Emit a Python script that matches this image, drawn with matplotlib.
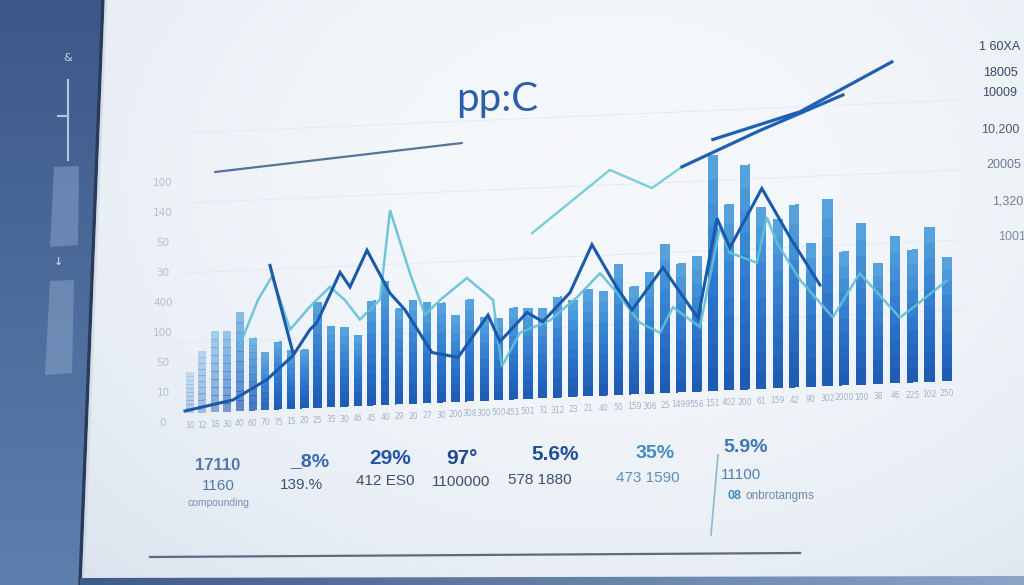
import numpy as np
import matplotlib
matplotlib.use("Agg")
import matplotlib.pyplot as plt
import matplotlib.transforms as mtransforms
from matplotlib.colors import LinearSegmentedColormap, to_rgb
from matplotlib.patches import Polygon

# ---------------- data ----------------
bar_values = [40, 61, 80, 80, 98, 72, 57, 67, 58, 58,
              105, 80, 79, 70, 104, 123, 95, 103, 100, 99,
              86, 101, 83, 81, 91, 90, 89, 100, 96, 106,
              104, 130, 107, 121, 148, 128, 135, 235, 185, 224,
              181, 168, 182, 143, 186, 133, 161, 120, 146, 132,
              154, 123]
x_labels = ["10", "12", "18", "30", "40", "60", "70", "75", "15", "20",
            "25", "35", "30", "46", "45", "40", "29", "20", "27", "30",
            "200", "308", "300", "500", "451", "501", "31", "312", "23", "21",
            "40", "50", "159", "306", "25", "1499", "556", "151", "402", "200",
            "61", "159", "42", "90", "302", "2000", "100", "38", "46", "225",
            "102", "250"]

main_line_x = [-0.41, 3.46, 6.13, 8.14, 9.42, 9.96, 11.68, 12.42, 13.67, 15.35,
               16.42, 18.35, 20.19, 22.27, 23.09, 24.93, 26.00, 27.81, 29.26, 30.77,
               31.87, 33.85, 36.07, 37.26, 38.06, 40.03, 41.74, 43.55]
main_line_y = [2, 11, 30, 53, 78, 85, 134, 119, 155, 111,
               94, 50, 44, 85, 58, 86, 76, 104, 151, 110,
               84, 125, 73, 172, 142, 200, 150, 101]
spike_x = [6.36, 8.14]
spike_y = [144, 55]

cyan_line_x = [4.02, 5.42, 6.52, 7.91, 9.42, 10.93, 12.05, 13.15, 14.62, 15.35,
               16.79, 17.86, 18.92, 20.81, 22.61, 23.22, 24.45, 26.47, 28.27, 29.79,
               30.89, 32.38, 33.66, 34.49, 36.19, 37.44, 38.06, 39.72, 40.34, 40.95,
               42.35, 44.32, 45.92, 48.27, 48.86, 50.99]
cyan_line_y = [66, 110, 133, 79, 101, 120, 106, 86, 105, 194,
               130, 88, 102, 123, 100, 33, 66, 77, 99, 122,
               102, 71, 60, 85, 64, 163, 137, 126, 171, 145,
               107, 68, 111, 65, 72, 100]

upper_cyan_x = [25.27, 30.43, 33.15, 35.06]
upper_cyan_y = [165, 225, 205, 225]
trend_a_x = [35.06, 39.91, 44.92]
trend_a_y = [225, 258, 290]
trend_b_x = [37.00, 42.35, 47.81]
trend_b_y = [251, 275, 321]

y_axis_labels = ["100", "140", "50", "30", "400", "100", "50", "10", "0"]
right_labels = ["1 60XA", "18005", "10009", "10,200", "20005", "1,320", "1001"]
stat_values = ["17110", "_8%", "29%", "97°", "5.6%", "35%", "5.9%"]
stat_subs = ["1160", "139.%", "412 ES0", "1100000", "578 1880", "473 1590", "11100"]
title = "pp:C"

# ---------------- figure ----------------
W, H = 1024, 585
fig = plt.figure(figsize=(W / 100, H / 100), dpi=100)

bg = fig.add_axes([0, 0, 1, 1])
bg.set_xlim(0, W)
bg.set_ylim(H, 0)
bg.axis("off")

# screen background gradient
gy, gx = np.mgrid[0:1:117j, 0:1:205j]
r = ((gx - 0.6) / 0.75) ** 2 + ((gy - 0.3) / 0.95) ** 2
t = np.clip(r, 0, 1)[..., None]
c_center = np.array([0.962, 0.973, 0.986])
c_edge = np.array([0.86, 0.895, 0.935])
img = c_center * (1 - t) + c_edge * t
bg.imshow(img, extent=[0, W, H, 0], aspect="auto", zorder=0, interpolation="bilinear")

# left dark panel
panel = Polygon([(0, 0), (103, 0), (80, H), (0, H)], closed=True,
                facecolor="none", edgecolor="none", zorder=1)
bg.add_patch(panel)
py = np.linspace(0, 1, 100)[:, None, None]
ptop = np.array(to_rgb("#3c5888"))
pbot = np.array(to_rgb("#5c7fae"))
pimg = ptop * (1 - py) + pbot * py
pimg = np.repeat(pimg, 4, axis=1)
pim = bg.imshow(pimg, extent=[0, 110, H, 0], aspect="auto", zorder=1, interpolation="bilinear")
pim.set_clip_path(panel)
bg.plot([103, 80], [0, H], color="#2a3a58", lw=2.5, zorder=2)
bg.plot([106, 83], [0, H], color="#c9d6e4", lw=2, zorder=2, alpha=0.6)

# panel UI bits
bg.plot([68, 68], [80, 160], color="#b4c5dc", lw=1.5, zorder=2)
bg.plot([58, 68], [116, 116], color="#b4c5dc", lw=1.5, zorder=2)
bg.add_patch(Polygon([(54, 167), (79, 166), (78, 245), (50, 247)], closed=True,
                     facecolor="#86a2c8", alpha=0.55, edgecolor="none", zorder=2))
bg.add_patch(Polygon([(50, 281), (74, 280), (72, 373), (45, 375)], closed=True,
                     facecolor="#86a2c8", alpha=0.55, edgecolor="none", zorder=2))
bg.text(68, 58, "&", color="#c8d6e8", fontsize=8, ha="center", va="center", zorder=3)
bg.text(58, 262, "\u2193", color="#dde7f3", fontsize=8, ha="center", va="center", zorder=3)

# bottom strip
strip = Polygon([(80, 578), (W, 576), (W, H), (80, H)], closed=True,
                facecolor="none", edgecolor="none", zorder=2)
bg.add_patch(strip)
sx = np.linspace(0, 1, 100)[None, :, None]
simg = np.array(to_rgb("#3f5b88")) * (1 - sx) + np.array(to_rgb("#8aa4c6")) * sx
simg = np.repeat(simg, 3, axis=0)
sim = bg.imshow(simg, extent=[80, W, H, 574], aspect="auto", zorder=2)
sim.set_clip_path(strip)

# title and decoration line
bg.plot([215, 462], [172, 143], color="#56739b", lw=1.6, zorder=3, solid_capstyle="round")
bg.text(497, 111, title, fontsize=29, color="#2c5fa9", ha="center", va="baseline",
        family=["Lato", "DejaVu Sans"], zorder=3)

# left faint y labels
for k, lab in enumerate(y_axis_labels):
    bg.text(163, 183 + k * 30, lab, fontsize=7.5, color="#b3c0d0", ha="center",
            va="center", zorder=3)

# right labels
right_y = [47, 73, 93, 130, 165, 202, 237]
right_x = [1000, 1000, 1000, 1000, 1004, 1008, 1012]
right_c = ["#36476a", "#36476a", "#3b4c6e", "#4a5a7a", "#6a7a95", "#6f7f98", "#7d8ca4"]
for lab, yy, xx, cc in zip(right_labels, right_y, right_x, right_c):
    bg.text(xx, yy, lab, fontsize=9, color=cc, ha="center", va="center",
            family=["Liberation Sans", "DejaVu Sans"], zorder=3)

# bottom stats
narrow = ["Liberation Sans Narrow", "Liberation Sans", "DejaVu Sans"]
sv_x = [218, 310, 390, 462, 555, 655, 746]
sv_y = [466, 462, 458, 458, 455, 453, 448]
sv_c = ["#5678a8", "#3569b0", "#2456a6", "#1f4a8e", "#1f4f99", "#3f8fc6", "#3a78b3"]
sv_s = [12, 14, 15, 15, 15, 14, 14]
for lab, xx, yy, cc, ss in zip(stat_values, sv_x, sv_y, sv_c, sv_s):
    bg.text(xx, yy, lab, fontsize=ss, color=cc, ha="center", va="center",
            family=narrow, fontweight="bold", zorder=3)
ss_x = [218, 301, 385, 461, 540, 648, 741]
ss_y = [486, 485, 481, 482, 480, 478, 475]
ss_c = ["#5678a8", "#3d5072", "#3d5072", "#3d5072", "#3d5072", "#5a90c0", "#4a80b4"]
for lab, xx, yy, cc in zip(stat_subs, ss_x, ss_y, ss_c):
    bg.text(xx, yy, lab, fontsize=11, color=cc, ha="center", va="center",
            family=narrow, zorder=3)
bg.text(218, 503, "compounding", fontsize=7.5, color="#7890b0", ha="center",
        va="center", family=narrow, zorder=3)
bg.text(727, 496, "08", fontsize=9, color="#3d8fba", ha="left", va="center",
        family=narrow, fontweight="bold", zorder=3)
bg.text(745, 496, "onbrotangms", fontsize=8.5, color="#6f86ad", ha="left",
        va="center", family=narrow, zorder=3)
bg.plot([718, 711], [455, 535], color="#8fb8cf", lw=1.2, zorder=3)
bg.plot([150, 800], [557, 553], color="#5d6b80", lw=1.6, zorder=3)

# ---------------- main chart ----------------
B_LIN, C_QUAD = 12.25, 0.0509


def fwd(v):
    v = np.asarray(v, dtype=float)
    return B_LIN * v + C_QUAD * v ** 2


def inv(u):
    u = np.asarray(u, dtype=float)
    return (np.sqrt(np.maximum(B_LIN ** 2 + 4 * C_QUAD * u, 0)) - B_LIN) / (2 * C_QUAD)


x_left_px, x_right_px = 173, 968
base_px = 413
top_px = 35
ax = fig.add_axes([x_left_px / W, (H - base_px) / H,
                   (x_right_px - x_left_px) / W, (base_px - top_px) / H])
ax.set_zorder(2)
ax.patch.set_visible(False)
ax.set_xscale("function", functions=(fwd, inv))
ax.set_xlim(-1.4, 52.2)
ax.set_ylim(0, base_px - top_px)
ax.axis("off")

skew = (mtransforms.Affine2D().translate(-185, -(H - base_px))
        .skew_deg(0, 2.44).translate(185, H - base_px))
T = ax.transData + skew

idx = np.arange(len(bar_values))
vals = np.array(bar_values, dtype=float)

# faint grid lines
for gv in [70, 140, 210, 280]:
    ax.plot([-1.0, 52.0], [gv, gv], color="#e3e9f0", lw=0.6, transform=T,
            clip_on=False, zorder=1)

# gradient bars built from stacked segments
bar_cmap = LinearSegmentedColormap.from_list(
    "bars", ["#1f5cb4", "#2a6fc6", "#3987d3", "#55a2dc"])
n_seg = 10
fade = np.clip(0.25 + idx * 0.11, 0.25, 1.0)
for k in range(n_seg):
    col = np.array(bar_cmap(k / (n_seg - 1)))
    cols = np.tile(col, (len(idx), 1))
    cols[:, 3] = fade
    bars = ax.bar(idx, vals / n_seg, bottom=vals * k / n_seg, width=0.55,
                  color=cols, linewidth=0, zorder=2)
    for p in bars.patches:
        p.set_transform(T)
        p.set_clip_on(False)
        p.set_antialiased(False)

# lines
ax.plot(cyan_line_x, cyan_line_y, color="#63c0d6", lw=1.8, alpha=0.9,
        transform=T, clip_on=False, zorder=3, solid_joinstyle="miter")
ax.plot(upper_cyan_x, upper_cyan_y, color="#78cfd6", lw=1.7,
        transform=T, clip_on=False, zorder=3)
ax.plot(main_line_x, main_line_y, color="#1a5aaa", lw=2.2,
        transform=T, clip_on=False, zorder=4, solid_joinstyle="miter")
ax.plot(spike_x, spike_y, color="#1a5aaa", lw=2.2,
        transform=T, clip_on=False, zorder=4)
ax.plot(trend_a_x, trend_a_y, color="#1f60b2", lw=2.3,
        transform=T, clip_on=False, zorder=4)
ax.plot(trend_b_x, trend_b_y, color="#1f60b2", lw=2.3,
        transform=T, clip_on=False, zorder=4)

# x tick labels (follow skewed baseline)
for i, lab in zip(idx, x_labels):
    ax.text(i, -13, lab, transform=T, fontsize=5.5, color="#a3b3c8",
            ha="center", va="center", clip_on=False, zorder=3)

fig.savefig("out.png", dpi=100)
